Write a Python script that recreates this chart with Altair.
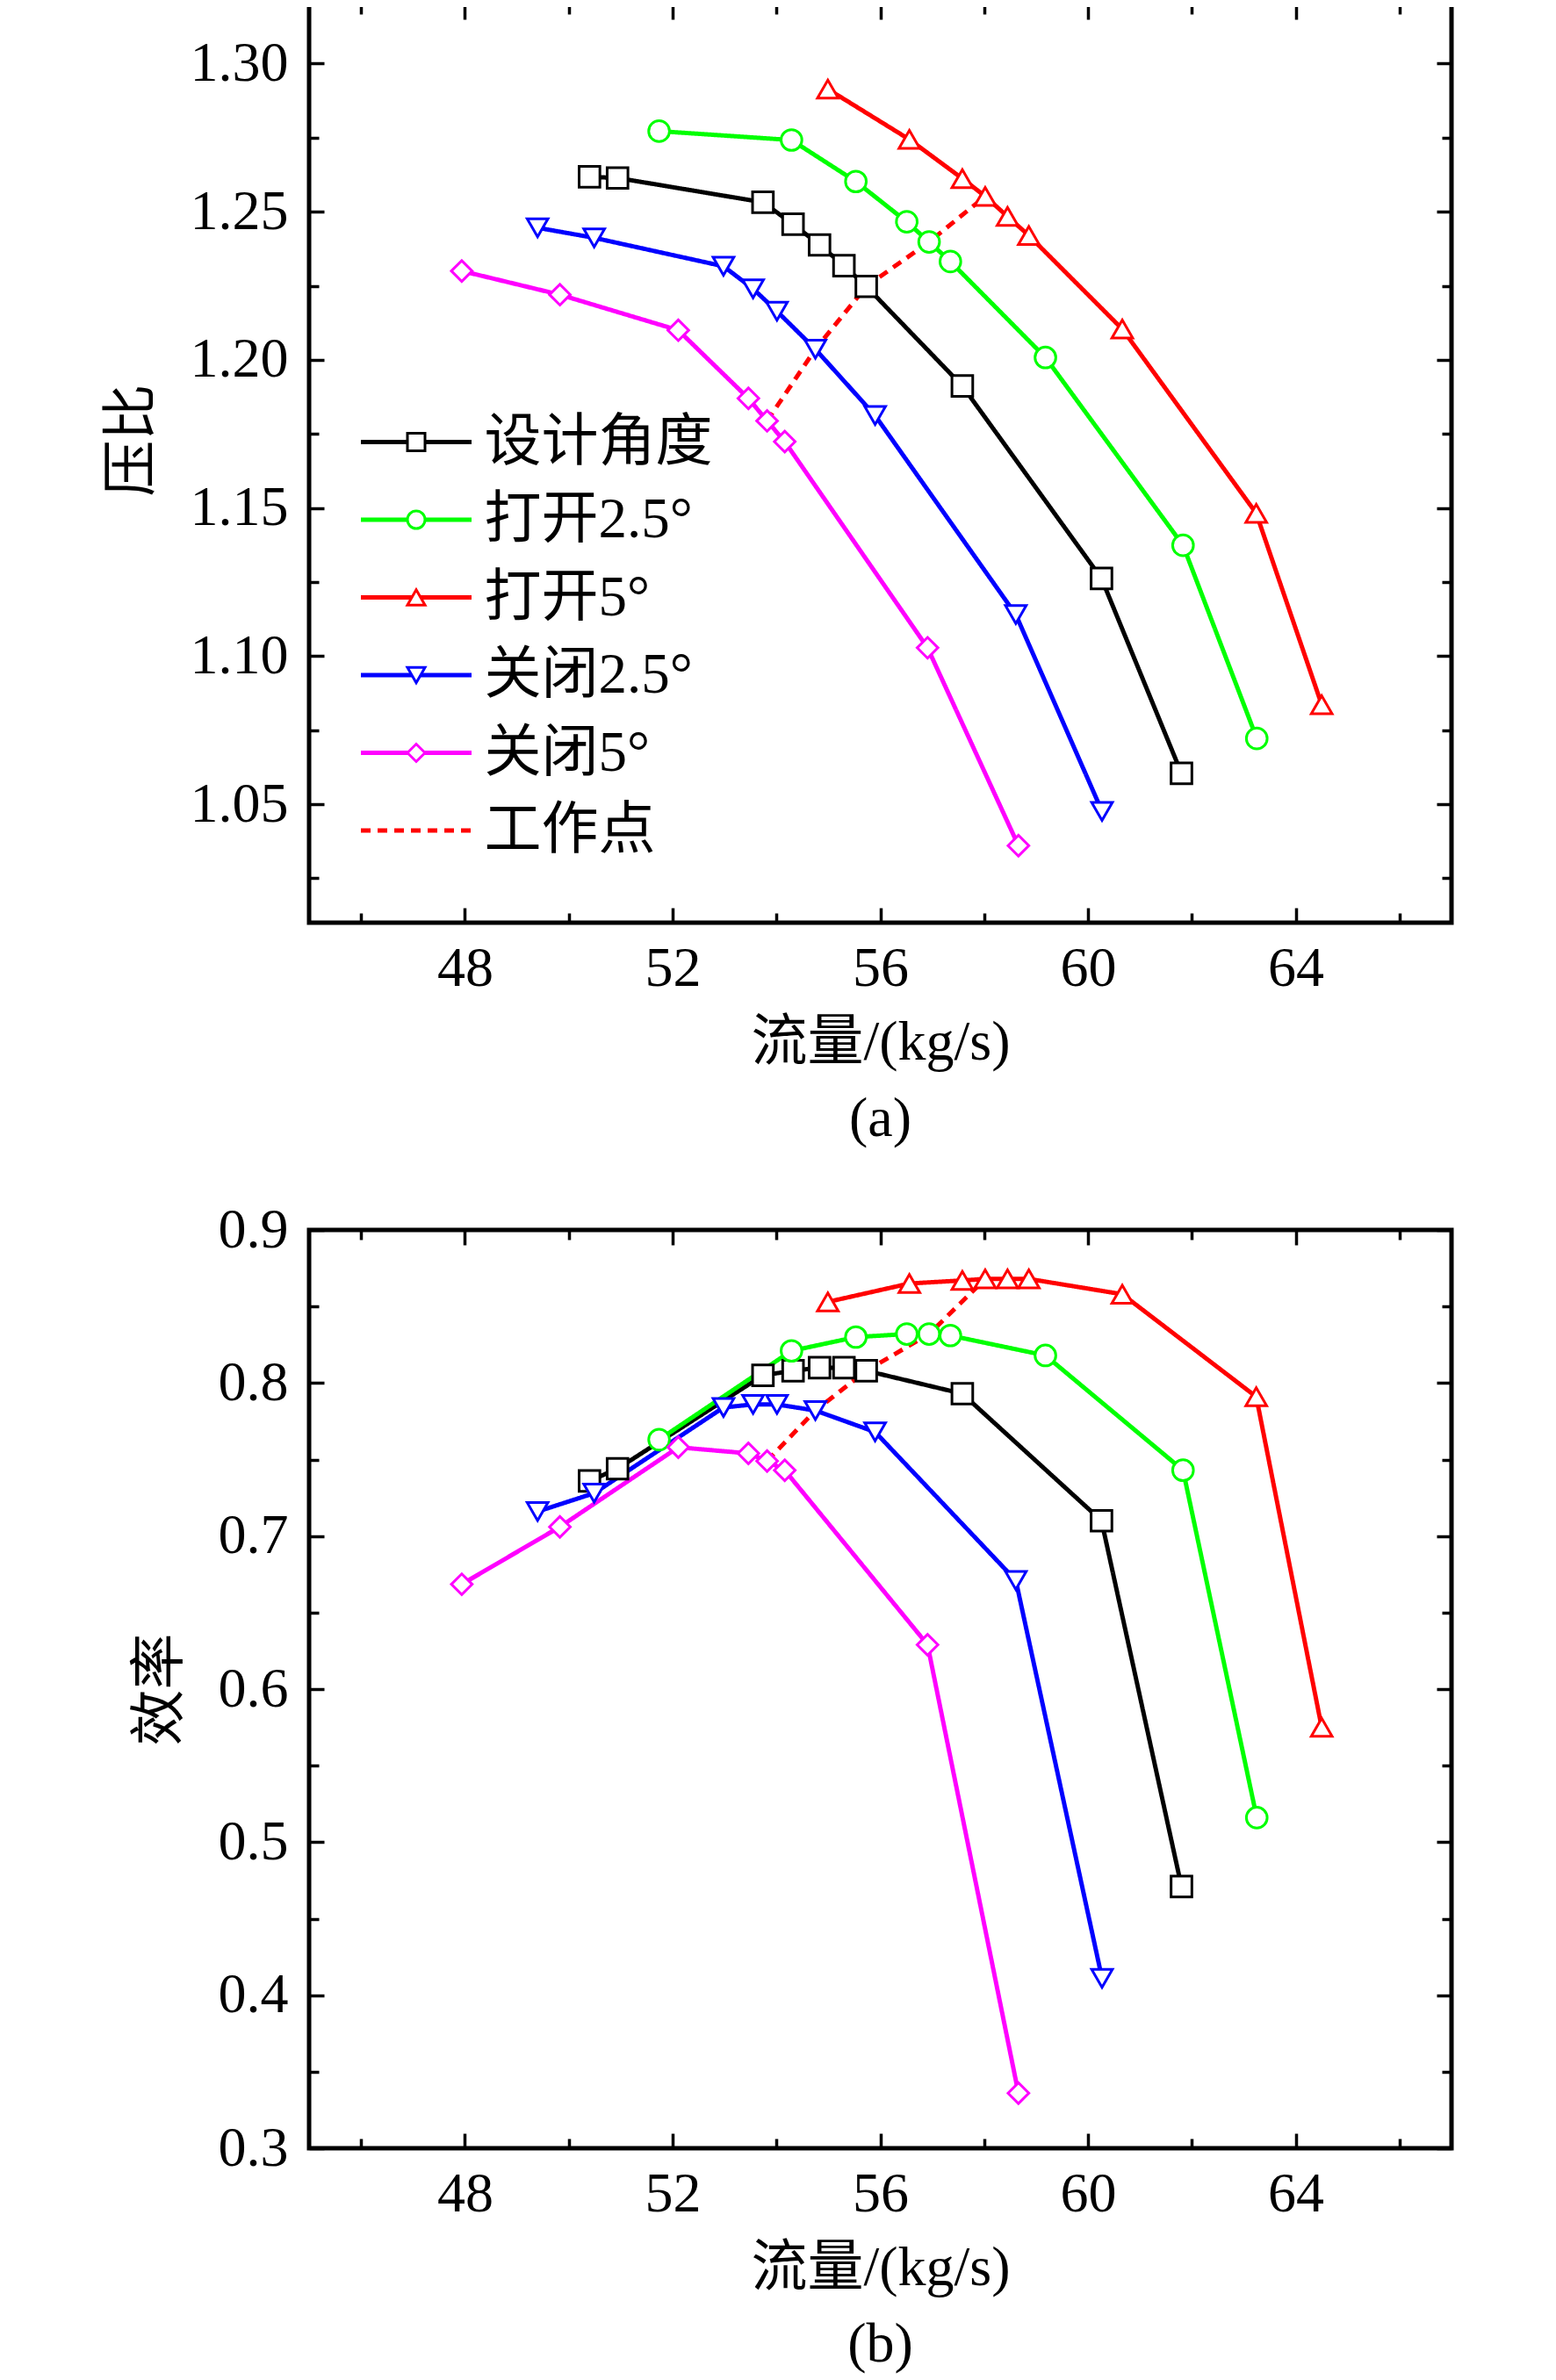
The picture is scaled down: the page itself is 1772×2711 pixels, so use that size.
import altair as alt
import pandas as pd

# ---------------- data ----------------
series = ["设计角度", "打开2.5°", "打开5°", "关闭2.5°", "关闭5°"]
work_name = "工作点"
colors = ["#000000", "#00FF00", "#FF0000", "#0000FF", "#FF00FF"]
work_color = "#FF0000"
shapes = ["square", "circle", "triangle-up", "triangle-down", "diamond"]

x_design = [50.40, 50.94, 53.74, 54.32, 54.83, 55.30, 55.73, 57.58, 60.26, 61.80]
pr_design = [1.2618, 1.2614, 1.2532, 1.2458, 1.2388, 1.2318, 1.2248, 1.1912, 1.1262, 1.0604]
eff_design = [0.736, 0.744, 0.805, 0.808, 0.810, 0.810, 0.808, 0.793, 0.710, 0.471]

x_open25 = [51.74, 54.29, 55.53, 56.51, 56.94, 57.35, 59.18, 61.83, 63.25]
pr_open25 = [1.2772, 1.2742, 1.2602, 1.2466, 1.2398, 1.2332, 1.2008, 1.1374, 1.0722]
eff_open25 = [0.763, 0.821, 0.830, 0.832, 0.832, 0.831, 0.818, 0.743, 0.516]

x_open5 = [54.99, 56.56, 57.58, 58.02, 58.45, 58.86, 60.66, 63.24, 64.50]
pr_open5 = [1.2914, 1.2744, 1.2612, 1.2552, 1.2484, 1.2420, 1.2104, 1.1482, 1.0836]
eff_open5 = [0.853, 0.865, 0.867, 0.868, 0.868, 0.868, 0.858, 0.791, 0.575]

x_close25 = [49.40, 50.49, 52.98, 53.55, 54.01, 54.75, 55.90, 58.61, 60.27]
pr_close25 = [1.2446, 1.2412, 1.2316, 1.2240, 1.2164, 1.2036, 1.1812, 1.1140, 1.0476]
eff_close25 = [0.716, 0.728, 0.784, 0.786, 0.786, 0.782, 0.768, 0.671, 0.411]

x_close5 = [47.94, 49.83, 52.11, 53.46, 53.82, 54.16, 56.91, 58.66]
pr_close5 = [1.2300, 1.2220, 1.2100, 1.1870, 1.1794, 1.1724, 1.1028, 1.0360]
eff_close5 = [0.6685, 0.706, 0.758, 0.754, 0.749, 0.743, 0.629, 0.336]

x_work = [53.82, 54.75, 55.73, 56.94, 58.02]
pr_work = [1.1794, 1.2036, 1.2248, 1.2398, 1.2552]
eff_work = [0.749, 0.782, 0.808, 0.832, 0.868]

x_labels = [48, 52, 56, 60, 64]
x_minor = [46, 50, 54, 58, 62, 66]
pr_major = [1.05, 1.10, 1.15, 1.20, 1.25, 1.30]
pr_minor = [1.025, 1.075, 1.125, 1.175, 1.225, 1.275]
eff_major = [0.3, 0.4, 0.5, 0.6, 0.7, 0.8, 0.9]
eff_minor = [0.35, 0.45, 0.55, 0.65, 0.75, 0.85]

# ---------------- tables ----------------
xs_all = [x_design, x_open25, x_open5, x_close25, x_close5]
pr_all = [pr_design, pr_open25, pr_open5, pr_close25, pr_close5]
eff_all = [eff_design, eff_open25, eff_open5, eff_close25, eff_close5]


def build(yvals, yw):
    rows = []
    for name, xl, yl in zip(series, xs_all, yvals):
        for a, b in zip(xl, yl):
            rows.append({"series": name, "series2": name, "x": a, "y": b})
    pts = pd.DataFrame(rows)
    work = pd.DataFrame({"series": work_name, "series2": work_name, "x": x_work, "y": yw})
    lines = pd.concat([pts, work], ignore_index=True)
    return lines, pts


FONT = "Liberation Serif, Noto Sans CJK SC"
PW, PH = 1301, 1046
MAJ, MIN = 17, 11
LFS = 64

line_domain = series + [work_name]
line_range = colors + [work_color]
dash_range = [[1, 0]] * 5 + [[11, 8]]

legend_lines = alt.Legend(
    title=None, orient="none", legendX=59, legendY=466, padding=0,
    symbolType="M-6,0L6,0", symbolSize=441, symbolStrokeWidth=5,
    symbolOffset=30.5, labelOffset=45, rowPadding=22.5,
    labelFont=FONT, labelFontSize=65, labelColor="black", labelLimit=800,
)
legend_marks = alt.Legend(
    title=None, orient="none", legendX=59, legendY=466, padding=0,
    symbolSize=400, symbolStrokeWidth=3, symbolFillColor="white",
    symbolOffset=30.5, labelOffset=45, rowPadding=22.5,
    labelFont=FONT, labelFontSize=65, labelColor="black", labelLimit=800,
    labelOpacity=0,
)


def tick_axis(orient, values, size):
    return alt.Axis(orient=orient, values=values, tickSize=size, offset=-size,
                    ticks=True, tickColor="black", tickWidth=3.5, labels=False,
                    domain=False, grid=False, title=None)


def panel(yvals, yw, ydom, ymaj, ymin, yfmt, ytitle, caption, title_y=None):
    lines, pts = build(yvals, yw)
    xs = alt.Scale(domain=[45, 67], nice=False, zero=False)
    ys = alt.Scale(domain=ydom, nice=False, zero=False)

    line_layer = alt.Chart(lines).mark_line(strokeWidth=5).encode(
        x=alt.X("x:Q", scale=xs, axis=None),
        y=alt.Y("y:Q", scale=ys, axis=None),
        color=alt.Color("series:N", scale=alt.Scale(domain=line_domain, range=line_range),
                        legend=legend_lines),
        strokeDash=alt.StrokeDash("series:N", scale=alt.Scale(domain=line_domain, range=dash_range),
                                  legend=legend_lines),
        detail="series:N",
    )
    point_layer = alt.Chart(pts).mark_point(filled=True, fill="white", size=560,
                                            strokeWidth=3, opacity=1).encode(
        x=alt.X("x:Q", scale=xs, axis=None),
        y=alt.Y("y:Q", scale=ys, axis=None),
        stroke=alt.Stroke("series2:N", scale=alt.Scale(domain=series, range=colors),
                          legend=legend_marks),
        shape=alt.Shape("series2:N", scale=alt.Scale(domain=series, range=shapes),
                        legend=legend_marks),
    )

    yaxis_kw = dict(orient="left", values=ymaj, format=yfmt, ticks=False, tickSize=0,
                    domain=False, grid=False, labelFont=FONT, labelFontSize=LFS,
                    labelColor="black", labelPadding=24, labelOverlap=False,
                    title=ytitle, titleFont=FONT, titleFontSize=64, titleFontWeight="normal",
                    titleColor="black", titlePadding=34)
    if title_y is not None:
        yaxis_kw["titleY"] = title_y
    label_layer = alt.Chart(pts).mark_point(opacity=0).encode(
        x=alt.X("x:Q", scale=xs, axis=alt.Axis(
            orient="bottom", values=x_labels, format="d", ticks=False, tickSize=0,
            domain=False, grid=False, labelFont=FONT, labelFontSize=LFS,
            labelColor="black", labelPadding=20, labelOverlap=False,
            title="流量/(kg/s)", titleFont=FONT, titleFontSize=64,
            titleFontWeight="normal", titleColor="black", titlePadding=20)),
        y=alt.Y("y:Q", scale=ys, axis=alt.Axis(**yaxis_kw)),
    )

    def tl(xo, xv, yo, yv, size):
        return alt.Chart(pts).mark_point(opacity=0).encode(
            x=alt.X("x:Q", scale=xs, axis=tick_axis(xo, xv, size)),
            y=alt.Y("y:Q", scale=ys, axis=tick_axis(yo, yv, size)),
        )

    layers = [
        line_layer, point_layer, label_layer,
        tl("bottom", x_labels, "left", ymaj, MAJ),
        tl("bottom", x_minor, "left", ymin, MIN),
        tl("top", x_labels, "right", ymaj, MAJ),
        tl("top", x_minor, "right", ymin, MIN),
    ]
    return alt.layer(*layers).resolve_axis(x="independent", y="independent").properties(
        width=PW, height=PH,
        title=alt.Title(caption, orient="bottom", frame="group", anchor="middle",
                        font=FONT, fontSize=64, fontWeight="normal", color="black",
                        offset=24),
    )


top = panel(pr_all, pr_work, [1.01, 1.32], pr_major, pr_minor, ".2f", "压比", "(a)",
            title_y=496)
bottom = panel(eff_all, eff_work, [0.3, 0.9], eff_major, eff_minor, ".1f", "效率", "(b)")

chart = alt.vconcat(top, bottom, spacing=56).properties(
    padding={"left": 107, "top": -8, "right": 0, "bottom": 0},
    background="white",
).configure_view(stroke="black", strokeWidth=5)

chart.save("out.html", embed_options={"renderer": "svg", "actions": False})
